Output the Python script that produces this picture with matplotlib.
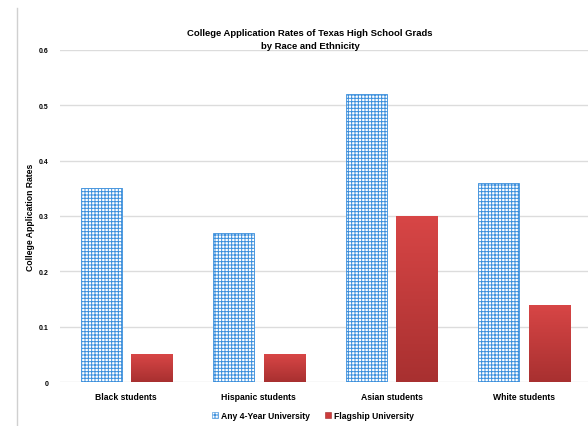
import numpy as np
import matplotlib.pyplot as plt
from matplotlib.lines import Line2D
from matplotlib.patches import Patch
from matplotlib.colors import LinearSegmentedColormap

plt.rcParams['font.family'] = ['Liberation Sans', 'DejaVu Sans']
plt.rcParams['hatch.linewidth'] = 0.7

# data
categories = ['Black students', 'Hispanic students', 'Asian students', 'White students']
any_4year = [0.35, 0.27, 0.52, 0.36]
flagship = [0.05, 0.05, 0.30, 0.14]
yticks = [0, 0.1, 0.2, 0.3, 0.4, 0.5, 0.6]
ytick_labels = ['0', '0.1', '0.2', '0.3', '0.4', '0.5', '0.6']

blue = '#3b8fdc'
red = '#cc3b3b'
red_grad = LinearSegmentedColormap.from_list('redgrad', ['#a83030', '#d84646'])

fig = plt.figure(figsize=(5.88, 4.27), dpi=100)
ax = fig.add_axes([0.102, 0.103, 0.902, 0.778])

x = np.arange(len(categories))
w = 0.31
ax.bar(x - 0.19, any_4year, w, color='white', edgecolor=blue, hatch='+++++',
       linewidth=0.6, label='Any 4-Year University', zorder=3)
red_bars = ax.bar(x + 0.19, flagship, w, color=red, edgecolor='#9e2a2a',
                  linewidth=0.6, label='Flagship University', zorder=3)

# vertical shading on the red bars, like the original
grad = np.linspace(0, 1, 256).reshape(-1, 1)
for b in red_bars:
    bx, by = b.get_x(), b.get_y()
    bw, bh = b.get_width(), b.get_height()
    im = ax.imshow(grad, cmap=red_grad, origin='lower', aspect='auto',
                   extent=[bx, bx + bw, by, by + bh], zorder=3.5)
    im.set_clip_path(b)

ax.set_xlim(-0.5, 3.5)
ax.set_ylim(0, 0.6)
ax.set_yticks(yticks)
ax.set_yticklabels(ytick_labels, fontsize=5, fontweight='bold')
ax.set_xticks(x)
ax.set_xticklabels(categories, fontsize=6.2, fontweight='bold')
ax.tick_params(length=0, pad=7)
ax.tick_params(axis='y', pad=8)
ax.grid(axis='y', color='#dcdcdc', linewidth=1, zorder=0)
for s in ax.spines.values():
    s.set_visible(False)

ax.set_ylabel('College Application Rates', fontsize=6.2, fontweight='bold', labelpad=3)
fig.text(0.527, 0.906, 'College Application Rates of Texas High School Grads\nby Race and Ethnicity',
         ha='center', va='center', fontsize=6.8, fontweight='bold', linespacing=1.55)

handles = [Patch(facecolor='white', edgecolor=blue, hatch='+++++', linewidth=0.4),
           Patch(facecolor=red, edgecolor='#9e2a2a', linewidth=0.4)]
fig.legend(handles, ['Any 4-Year University', 'Flagship University'],
           loc='center', bbox_to_anchor=(0.532, 0.024), ncol=2, frameon=False,
           prop={'size': 6.2, 'weight': 'bold'}, handlelength=0.7, handleheight=0.7,
           handletextpad=0.3, columnspacing=1.8)

fig.add_artist(Line2D([17 / 588, 17 / 588], [0, 1 - 9 / 427], transform=fig.transFigure,
                      color='#d0d0d0', linewidth=1))

fig.savefig('out.png', dpi=100)
